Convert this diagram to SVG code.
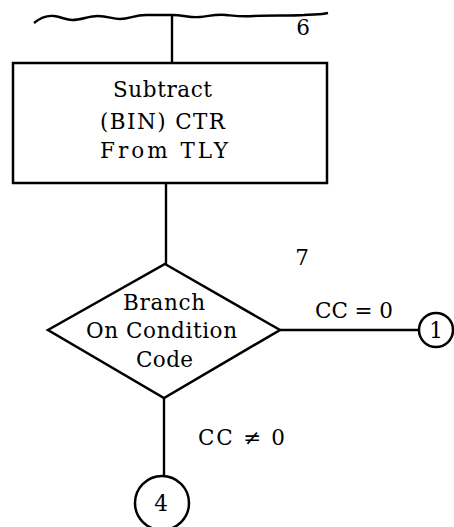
<svg xmlns="http://www.w3.org/2000/svg" width="454" height="527" viewBox="0 0 454 527">
<style>
.ln{fill:none;stroke:#000;stroke-width:2.4}
.sh{fill:#fff;stroke:#000;stroke-width:2.5}
.t{font-family:"DejaVu Serif","Liberation Serif",serif;font-size:21.5px;fill:#000}
.m{text-anchor:middle}
</style>
<g id="connectors">
<path class="ln" stroke-width="2" d="M34,23 C40,18 46,15 54,16 C62,17 66,20 72,20 C82,20 88,16 98,16 C108,16 112,19 120,19 C130,19 134,15 146,15 C156,15 164,15 172,15 C184,15 190,18 200,17 C210,16 216,14 226,15 C236,16 242,17 254,16 C270,15 290,16 304,15 C314,14 320,15 328,13"/>
<line class="ln" x1="172" y1="15" x2="172" y2="63"/>
<line class="ln" x1="166" y1="183" x2="166" y2="264"/>
<line class="ln" x1="280" y1="330" x2="419" y2="330"/>
<line class="ln" x1="164" y1="398" x2="164" y2="476"/>
</g>
<g id="n6"><text class="t" x="303" y="35" text-anchor="middle">6</text></g>
<g id="subtract">
<rect class="sh" x="13" y="63" width="314" height="120"/>
<text class="t m" x="162.5" y="97" textLength="99" lengthAdjust="spacing">Subtract</text>
<text class="t m" x="162.5" y="129" textLength="125" lengthAdjust="spacing">(BIN) CTR</text>
<text class="t m" x="164" y="158" textLength="128" lengthAdjust="spacing">From TLY</text>
</g>
<g id="n7"><text class="t" x="302" y="265" text-anchor="middle">7</text></g>
<g id="branch">
<polygon class="sh" points="165,264 280,330 164,398 48,330"/>
<text class="t m" x="164" y="310" textLength="82" lengthAdjust="spacing">Branch</text>
<text class="t m" x="161.5" y="338" textLength="151" lengthAdjust="spacing">On Condition</text>
<text class="t m" x="164.5" y="367" textLength="57" lengthAdjust="spacing">Code</text>
</g>
<g id="label-eq"><text class="t m" x="354" y="318" textLength="78" lengthAdjust="spacing">CC = 0</text></g>
<g id="label-ne"><text class="t m" x="241.5" y="445" textLength="87" lengthAdjust="spacing">CC ≠ 0</text></g>
<g id="c1">
<circle class="sh" cx="436" cy="330" r="17"/>
<text class="t m" x="436" y="337.5">1</text>
</g>
<g id="c4">
<circle class="sh" cx="162" cy="503" r="27"/>
<text class="t m" x="161" y="511">4</text>
</g>
</svg>
